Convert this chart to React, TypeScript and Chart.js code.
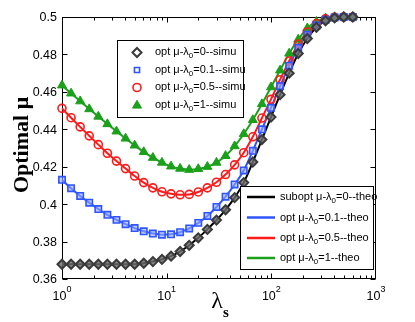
import React, { useEffect, useRef } from 'react';
import { Chart, registerables } from 'chart.js';
import { drawPoint } from 'chart.js/helpers';

Chart.register(...registerables);

// λs values (log-spaced, 1 .. 600)
const lambdaS = [
  1, 1.2211, 1.4912, 1.821, 2.2237, 2.7154, 3.3159, 4.0493, 4.9448, 6.0383, 7.3836,
  9.0157, 11.01, 13.445, 16.419, 20.05, 24.49, 29.91, 36.52, 44.61, 54.48, 66.55,
  81.28, 99.26, 121.2, 148.1, 180.8, 220.8, 269.7, 329.4, 402.3, 491.2, 600,
];

// λ0 = 0 (subopt / opt)
const mu0 = [
  0.3679, 0.3679, 0.3679, 0.3679, 0.3679, 0.3679, 0.3679, 0.3679, 0.3679, 0.3684, 0.3693,
  0.3705, 0.3722, 0.3747, 0.378, 0.382, 0.3865, 0.3915, 0.397, 0.4035, 0.4115, 0.4225,
  0.4345, 0.4465, 0.4585, 0.47, 0.4805, 0.4885, 0.4945, 0.498, 0.4995, 0.5, 0.5,
];
// λ0 = 0.1
const mu01 = [
  0.413, 0.4085, 0.4044, 0.4008, 0.3974, 0.3943, 0.3916, 0.3893, 0.3872, 0.3855, 0.3843,
  0.3837, 0.3839, 0.385, 0.387, 0.39, 0.3937, 0.3985, 0.404, 0.4105, 0.418, 0.4285,
  0.44, 0.4515, 0.463, 0.474, 0.4835, 0.4905, 0.4955, 0.4985, 0.4997, 0.5, 0.5,
];
// λ0 = 0.5
const mu05 = [
  0.4512, 0.4462, 0.4413, 0.4365, 0.4318, 0.4272, 0.423, 0.419, 0.415, 0.4115, 0.4087,
  0.4066, 0.4055, 0.405, 0.4052, 0.4065, 0.4087, 0.4117, 0.4158, 0.421, 0.4275, 0.436,
  0.446, 0.456, 0.4665, 0.4765, 0.4855, 0.492, 0.4965, 0.499, 0.4998, 0.5, 0.5,
];
// λ0 = 1
const mu1 = [
  0.4635, 0.4592, 0.455, 0.4508, 0.4468, 0.4428, 0.4389, 0.4351, 0.4314, 0.4279, 0.4248,
  0.4222, 0.4202, 0.419, 0.4184, 0.4188, 0.42, 0.4222, 0.4258, 0.431, 0.4375, 0.445,
  0.4535, 0.4625, 0.4715, 0.4805, 0.488, 0.494, 0.4975, 0.4993, 0.5, 0.5, 0.5,
];

const lambda0Labels = ['0', '0.1', '0.5', '1'];
const theoPrefixes = ['subopt', 'opt', 'opt', 'opt'];
const yTicks = [0.36, 0.38, 0.4, 0.42, 0.44, 0.46, 0.48, 0.5];
const yTickLabels = ['0.36', '0.38', '0.4', '0.42', '0.44', '0.46', '0.48', '0.5'];
const xTicks = [1, 10, 100, 1000];
const xTickExponents = ['0', '1', '2', '3'];

const SANS = '"Liberation Sans", Arial, sans-serif';
const SERIF = '"Liberation Serif", "Times New Roman", serif';

const series = [mu0, mu01, mu05, mu1];
const lineColors = ['#000000', '#2f55ff', '#ff1a1a', '#1aa01a'];
const markerStyles = [
  { pointStyle: 'rectRot', radius: 4.5, borderColor: '#3a3a3a', backgroundColor: 'rgba(110,110,110,0.8)', borderWidth: 2 },
  { pointStyle: 'rect', radius: 4.5, borderColor: '#2f55ff', backgroundColor: 'rgba(150,170,255,0.6)', borderWidth: 1.6 },
  { pointStyle: 'circle', radius: 4, borderColor: '#ff1a1a', backgroundColor: 'rgba(255,255,255,0)', borderWidth: 1.6 },
  { pointStyle: 'triangle', radius: 5.2, borderColor: '#1aa01a', backgroundColor: '#1aa01a', borderWidth: 1 },
];

function drawSubLabel(ctx: CanvasRenderingContext2D, x: number, yMid: number, pre: string, sub: string, post: string, size: number) {
  const base = yMid + size * 0.36;
  ctx.textAlign = 'left';
  ctx.textBaseline = 'alphabetic';
  ctx.font = `${size}px ${SANS}`;
  ctx.fillText(pre, x, base);
  x += ctx.measureText(pre).width;
  ctx.font = `${size * 0.72}px ${SANS}`;
  ctx.fillText(sub, x, base + 3);
  x += ctx.measureText(sub).width;
  ctx.font = `${size}px ${SANS}`;
  ctx.fillText(post, x, base);
}

const decorPlugin = {
  id: 'decor',
  beforeDatasetsDraw(chart: any) {
    const { ctx, chartArea: a, scales } = chart;
    const xs = scales.x;
    const ys = scales.y;
    ctx.save();
    ctx.strokeStyle = '#000';
    ctx.lineWidth = 1;
    const L = Math.round(a.left) + 0.5;
    const R = Math.round(a.right) - 0.5;
    const T = Math.round(a.top) + 0.5;
    const B = Math.round(a.bottom) - 0.5;
    ctx.strokeRect(L, T, R - L, B - T);
    ctx.beginPath();
    for (let d = 0; d < 3; d++) {
      for (let m = 1; m <= 9; m++) {
        const v = m * Math.pow(10, d);
        const px = Math.round(xs.getPixelForValue(v)) + 0.5;
        const len = m === 1 ? 5 : 3;
        ctx.moveTo(px, B); ctx.lineTo(px, B - len);
        ctx.moveTo(px, T); ctx.lineTo(px, T + len);
      }
    }
    yTicks.forEach((v) => {
      const py = Math.round(ys.getPixelForValue(v)) + 0.5;
      ctx.moveTo(L, py); ctx.lineTo(L + 5, py);
      ctx.moveTo(R, py); ctx.lineTo(R - 5, py);
    });
    ctx.stroke();

    ctx.fillStyle = '#000';
    ctx.font = `12.5px ${SANS}`;
    ctx.textAlign = 'right';
    ctx.textBaseline = 'middle';
    yTicks.forEach((v, i) => {
      ctx.fillText(yTickLabels[i], a.left - 5, ys.getPixelForValue(v) + 1);
    });
    xTicks.forEach((v, i) => {
      const px = xs.getPixelForValue(v);
      ctx.font = `12.5px ${SANS}`;
      const w1 = ctx.measureText('10').width;
      ctx.font = `9px ${SANS}`;
      const w2 = ctx.measureText(xTickExponents[i]).width;
      const start = px - (w1 + w2) / 2;
      ctx.textAlign = 'left';
      ctx.textBaseline = 'alphabetic';
      ctx.font = `12.5px ${SANS}`;
      ctx.fillText('10', start, a.bottom + 21);
      ctx.font = `9px ${SANS}`;
      ctx.fillText(xTickExponents[i], start + w1, a.bottom + 13);
    });
    ctx.textAlign = 'center';
    ctx.textBaseline = 'alphabetic';
    ctx.font = `24px ${SERIF}`;
    ctx.fillText('λ', 217, 308);
    ctx.font = `bold 15px ${SERIF}`;
    ctx.fillText('s', 226, 317);
    ctx.save();
    ctx.translate(27.5, 145);
    ctx.rotate(-Math.PI / 2);
    ctx.font = `bold 22px ${SERIF}`;
    ctx.fillText('Optimal μ', 0, 0);
    ctx.restore();
    ctx.restore();
  },
  afterDatasetsDraw(chart: any) {
    const { ctx } = chart;
    ctx.save();
    ctx.fillStyle = '#fff';
    ctx.fillRect(117, 40, 126, 77);
    ctx.strokeStyle = '#000';
    ctx.lineWidth = 1;
    ctx.strokeRect(117.5, 40.5, 126, 77);
    const rows1 = [52.5, 70, 87.5, 105.5];
    rows1.forEach((y, i) => {
      const st = markerStyles[i];
      ctx.fillStyle = i === 3 ? st.backgroundColor : '#ffffff';
      ctx.strokeStyle = st.borderColor;
      ctx.lineWidth = st.borderWidth;
      drawPoint(ctx, { pointStyle: st.pointStyle as any, radius: i === 1 ? 3.6 : st.radius, rotation: 0, borderWidth: st.borderWidth }, 137, y);
      ctx.fillStyle = '#000';
      drawSubLabel(ctx, 155, y - 1, 'opt μ-λ', '0', `=${lambda0Labels[i]}--simu`, 11);
    });
    ctx.fillStyle = '#fff';
    ctx.fillRect(240, 186, 133, 83);
    ctx.strokeStyle = '#000';
    ctx.lineWidth = 1;
    ctx.strokeRect(240.5, 186.5, 133, 83);
    const rows2 = [197, 217.5, 238, 258];
    rows2.forEach((y, i) => {
      ctx.strokeStyle = lineColors[i];
      ctx.lineWidth = 2.5;
      ctx.beginPath();
      ctx.moveTo(247, y);
      ctx.lineTo(275, y);
      ctx.stroke();
      ctx.fillStyle = '#000';
      drawSubLabel(ctx, 280, y - 0.5, `${theoPrefixes[i]} μ-λ`, '0', `=${lambda0Labels[i]}--theo`, 11);
    });
    ctx.restore();
  },
};

export default function App() {
  const ref = useRef<HTMLCanvasElement>(null);
  useEffect(() => {
    if (!ref.current) return;
    const simuSets = series.map((arr, i) => ({
      label: `simu ${lambda0Labels[i]}`,
      data: lambdaS.map((x, k) => ({ x, y: arr[k] })),
      showLine: false,
      pointStyle: markerStyles[i].pointStyle,
      pointRadius: markerStyles[i].radius,
      pointBorderColor: markerStyles[i].borderColor,
      pointBackgroundColor: markerStyles[i].backgroundColor,
      pointBorderWidth: markerStyles[i].borderWidth,
      borderColor: markerStyles[i].borderColor,
      backgroundColor: markerStyles[i].backgroundColor,
      clip: false,
    }));
    const theoSets = series.map((arr, i) => ({
      label: `theo ${lambda0Labels[i]}`,
      data: lambdaS.map((x, k) => ({ x, y: arr[k] })),
      showLine: true,
      borderColor: lineColors[i],
      borderWidth: 2,
      pointRadius: 0,
      cubicInterpolationMode: 'monotone',
      clip: false,
    }));
    const chart = new Chart(ref.current, {
      type: 'line',
      data: { datasets: [...simuSets, ...theoSets] as any },
      options: {
        responsive: false,
        animation: false,
        devicePixelRatio: 1,
        events: [],
        layout: { padding: { left: 62, top: 17, right: 39, bottom: 43 } },
        scales: {
          x: { type: 'logarithmic', min: 1, max: 1000, display: false },
          y: { type: 'linear', min: 0.36, max: 0.5, display: false },
        },
        plugins: { legend: { display: false }, tooltip: { enabled: false } },
      },
      plugins: [decorPlugin],
    });
    return () => chart.destroy();
  }, []);
  return (
    <div style={{ position: 'absolute', left: 0, top: 0, width: 415, height: 322, background: '#fff' }}>
      <canvas ref={ref} width={415} height={322} style={{ display: 'block', width: 415, height: 322 }} />
    </div>
  );
}
